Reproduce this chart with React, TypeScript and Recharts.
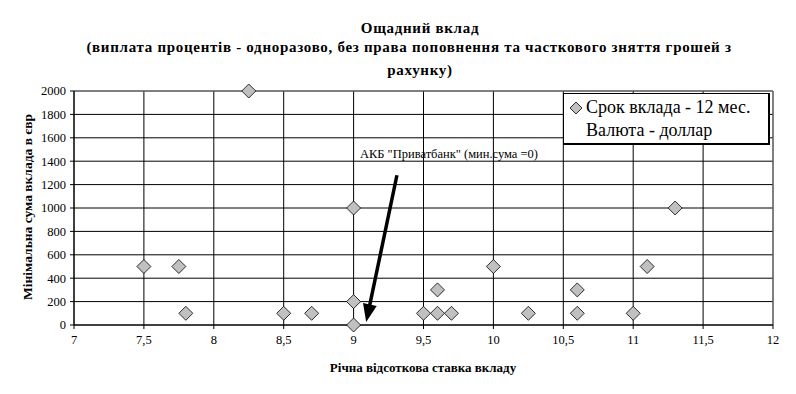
import React from "react";
import {
  ScatterChart,
  Scatter,
  XAxis,
  YAxis,
  CartesianGrid,
  ReferenceLine,
} from "recharts";

const rates = [7.5, 7.75, 7.8, 8.25, 8.5, 8.7, 9, 9, 9, 9.5, 9.6, 9.6, 9.7, 10, 10.25, 10.6, 10.6, 11, 11.1, 11.3];
const minSums = [500, 500, 100, 2000, 100, 100, 1000, 200, 0, 100, 300, 100, 100, 500, 100, 300, 100, 100, 500, 1000];
const xTicks = [7, 7.5, 8, 8.5, 9, 9.5, 10, 10.5, 11, 11.5, 12];
const yTicks = [0, 200, 400, 600, 800, 1000, 1200, 1400, 1600, 1800, 2000];
const titleLines = [
  "Ощадний вклад",
  "(виплата процентів - одноразово, без права поповнення та часткового зняття грошей з",
  "рахунку)",
];
const seriesName = "Срок вклада - 12 мес.";
const seriesSub = "Валюта - доллар";
const annotationText = 'АКБ "Приватбанк" (мин.сума =0)';
const arrowFrom = { x: 9.31, y: 1280 };
const arrowTo = { x: 9.09, y: 25 };
const xLabel = "Річна відсоткова ставка вкладу";
const yLabel = "Мінімальна сума вклада в євр";

const data = rates.map((x, i) => ({ x, y: minSums[i] }));

const FONT = "'Liberation Serif', 'Times New Roman', 'DejaVu Serif', serif";

const Diamond = (props: any) => {
  const { cx, cy } = props;
  if (cx == null || cy == null) return null;
  const s = 7;
  return (
    <polygon
      points={`${cx},${cy - s} ${cx + s},${cy} ${cx},${cy + s} ${cx - s},${cy}`}
      fill="#c0c0c0"
      stroke="#000"
      strokeWidth={0.8}
    />
  );
};

const ArrowShape = (props: any) => {
  const { x1, y1, x2, y2 } = props;
  if ([x1, y1, x2, y2].some((v) => v == null || isNaN(v))) return null;
  const dx = x2 - x1;
  const dy = y2 - y1;
  const len = Math.sqrt(dx * dx + dy * dy);
  const ux = dx / len;
  const uy = dy / len;
  const headLen = 18;
  const headW = 7;
  const bx = x2 - ux * headLen;
  const by = y2 - uy * headLen;
  const px = -uy;
  const py = ux;
  return (
    <g>
      <text
        x={x1 - 37}
        y={y1 - 17}
        fontSize={12.5}
        fontFamily={FONT}
        fill="#000"
      >
        {annotationText}
      </text>
      <line x1={x1} y1={y1} x2={bx + ux * 2} y2={by + uy * 2} stroke="#000" strokeWidth={3.5} />
      <polygon
        points={`${x2},${y2} ${bx + px * headW},${by + py * headW} ${bx - px * headW},${by - py * headW}`}
        fill="#000"
      />
    </g>
  );
};

const LegendBox = () => (
  <div
    style={{
      position: "absolute",
      left: 563,
      top: 93,
      width: 207,
      height: 52,
      background: "#fff",
      border: "1px solid #000",
      borderRightWidth: 2,
      borderBottomWidth: 2,
      boxSizing: "border-box",
      fontFamily: FONT,
      fontSize: 18,
      color: "#000",
      lineHeight: "23px",
      paddingTop: 2,
      zIndex: 2,
    }}
  >
    <div style={{ display: "flex", alignItems: "center", whiteSpace: "nowrap" }}>
      <svg width={22} height={16} style={{ flex: "none" }}>
        <polygon points="12,2 18,8 12,14 6,8" fill="#c0c0c0" stroke="#000" strokeWidth={0.8} />
      </svg>
      <span>{seriesName}</span>
    </div>
    <div style={{ paddingLeft: 22, whiteSpace: "nowrap" }}>{seriesSub}</div>
  </div>
);

const fmt = (v: number) => String(v).replace(".", ",");

export default function App() {
  return (
    <div
      style={{
        position: "absolute",
        left: 0,
        top: 0,
        width: 796,
        height: 394,
        background: "#fff",
        fontFamily: FONT,
      }}
    >
      {titleLines.map((t, i) => (
        <div
          key={i}
          style={{
            position: "absolute",
            left: [0, -11, 0][i],
            width: 840,
            textAlign: "center",
            top: [19, 38, 61][i],
            fontSize: 15,
            letterSpacing: 0.7,
            fontWeight: "bold",
            lineHeight: "18px",
            whiteSpace: "nowrap",
            color: "#000",
          }}
        >
          {t}
        </div>
      ))}
      <ScatterChart
        width={796}
        height={394}
        margin={{ top: 91, right: 23, bottom: 19, left: 0 }}
        style={{ position: "absolute", left: 0, top: 0 }}
      >
        <CartesianGrid stroke="#000" strokeWidth={1} />
        <XAxis
          type="number"
          dataKey="x"
          domain={[7, 12]}
          ticks={xTicks}
          tickFormatter={fmt}
          interval={0}
          height={50}
          stroke="#000"
          tickSize={4}
          tickMargin={6}
          tick={{ fill: "#000", fontSize: 12.5, fontFamily: FONT }}
          label={() => (
            <text
              x={423}
              y={372}
              textAnchor="middle"
              fontSize={13}
              fontWeight="bold"
              fontFamily={FONT}
              fill="#000"
            >
              {xLabel}
            </text>
          )}
        />
        <YAxis
          type="number"
          dataKey="y"
          domain={[0, 2000]}
          ticks={yTicks}
          interval={0}
          width={74}
          stroke="#000"
          tickSize={4}
          tickMargin={4}
          tick={{ fill: "#000", fontSize: 12.5, fontFamily: FONT }}
          label={() => (
            <text
              x={32}
              y={207}
              textAnchor="middle"
              transform="rotate(-90 32 207)"
              fontSize={13.5}
              fontWeight="bold"
              fontFamily={FONT}
              fill="#000"
            >
              {yLabel}
            </text>
          )}
        />
        <ReferenceLine y={2000} stroke="#808080" strokeWidth={1} />
        <ReferenceLine x={12} stroke="#808080" strokeWidth={1} />
        <Scatter
          name={seriesName}
          data={data}
          shape={Diamond}
          isAnimationActive={false}
        />
        <ReferenceLine
          segment={[arrowFrom, arrowTo]}
          shape={ArrowShape}
          ifOverflow="visible"
        />
      </ScatterChart>
      <LegendBox />
    </div>
  );
}
